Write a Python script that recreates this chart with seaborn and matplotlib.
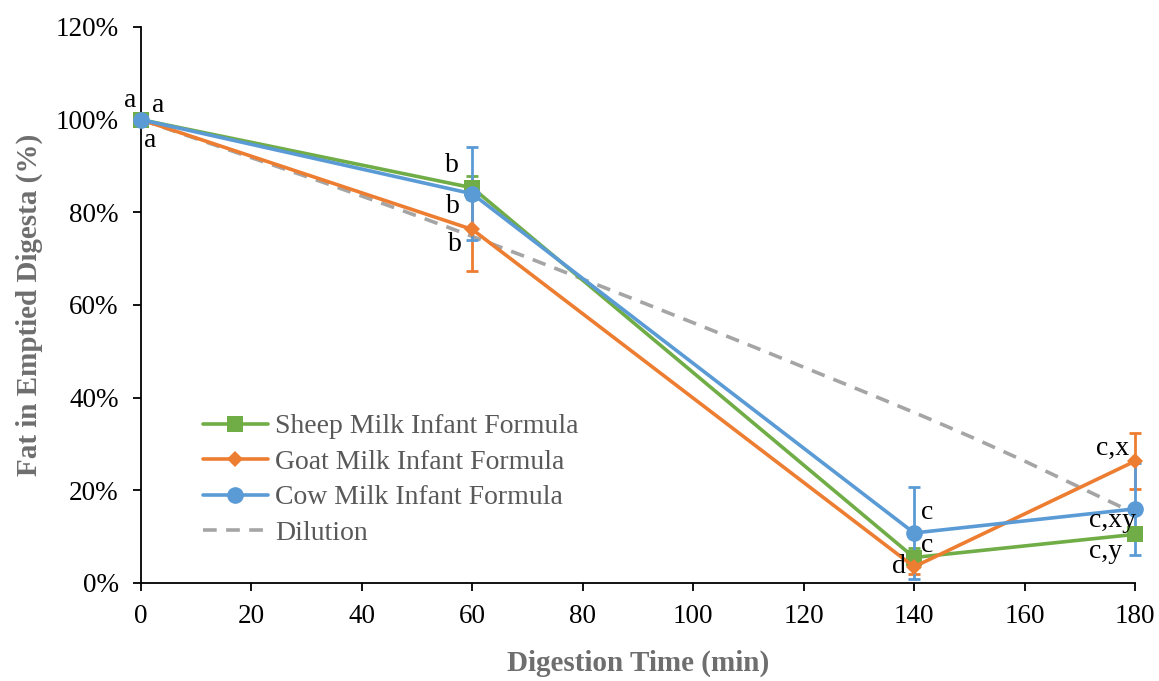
import numpy as np
import pandas as pd
import matplotlib
matplotlib.use("Agg")
import matplotlib.pyplot as plt
import seaborn as sns
from matplotlib.path import Path
from matplotlib.patches import PathPatch

# ---- data ----
time = [0, 60, 140, 180]
sheep = [100, 85.3, 5.5, 10.5]
goat = [100, 76.3, 3.5, 26.3]
cow = [100, 84.0, 10.8, 16.0]
dilution = [100, 74.8, 36.8, 15.0]

sheep_err = [0, 2.5, 2.0, 0]
goat_err = [0, 9.0, 1.5, 6.0]
cow_err = [0, 10.0, 10.0, 10.0]

labels = [
    ("a", -2.0, 104.2), ("a", 3.2, 103.0), ("a", 1.6, 95.4),
    ("b", 56.3, 90.2), ("b", 56.5, 81.2), ("b", 56.9, 73.0),
    ("c", 142.3, 15.3), ("c", 142.3, 8.2), ("d", 137.2, 3.5),
    ("c,x", 176.0, 29.1), ("c,xy", 176.0, 13.4), ("c,y", 174.6, 6.7),
]

series_names = ["Sheep Milk Infant Formula", "Goat Milk Infant Formula",
                "Cow Milk Infant Formula"]
colors = ["#70AD47", "#ED7D31", "#5B9BD5"]
markers = ["s", "D", "o"]
msizes = [11, 8.5, 12]

sns.set_style("white")
plt.rcParams["font.family"] = ["Liberation Serif", "DejaVu Serif"]

fig = plt.figure(figsize=(11.59, 6.81), dpi=100)
ax = fig.add_axes([141/1159, 1-583/681, (1135-141)/1159, (583-27)/681])

# dilution (smoothed line through its points, Excel-style)
xs = np.array(time, float); ys = np.array(dilution, float)
verts = [(xs[0], ys[0])]; codes = [Path.MOVETO]
n = len(xs)
for i in range(n - 1):
    p0 = np.array([xs[max(i-1, 0)], ys[max(i-1, 0)]])
    p1 = np.array([xs[i], ys[i]])
    p2 = np.array([xs[i+1], ys[i+1]])
    p3 = np.array([xs[min(i+2, n-1)], ys[min(i+2, n-1)]])
    c1 = p1 + (p2 - p0) / 6.0
    c2 = p2 - (p3 - p1) / 6.0
    verts += [tuple(c1), tuple(c2), tuple(p2)]
    codes += [Path.CURVE4] * 3
ax.add_patch(PathPatch(Path(verts, codes), fill=False, edgecolor="#A5A5A5",
                       lw=2.6, ls=(0, (3.8, 2.6)), zorder=2, clip_on=False))
ax.plot([], [], color="#A5A5A5", lw=2.6, ls=(0, (3.8, 2.6)), label="Dilution")

vals = [sheep, goat, cow]
errs = [sheep_err, goat_err, cow_err]
for name, v, e, c, m, ms in zip(series_names, vals, errs, colors, markers, msizes):
    df = pd.DataFrame({"t": time, "v": v})
    ax.errorbar(time, v, yerr=e, fmt="none", ecolor=c, elinewidth=2,
                capsize=4.5, capthick=2, zorder=3, clip_on=False)
    sns.lineplot(data=df, x="t", y="v", ax=ax, color=c, lw=2.6, marker=m,
                 markersize=ms, markeredgewidth=0, label=name, zorder=4,
                 clip_on=False)

for txt, x, y in labels:
    ax.text(x, y, txt, ha="center", va="center", fontsize=20, color="black",
            zorder=6)

ax.set_xlim(0, 180)
ax.set_ylim(0, 120)
ax.set_xticks(range(0, 181, 20))
ax.set_yticks(range(0, 121, 20))
ax.set_yticklabels([f"{t}%" for t in range(0, 121, 20)])
ax.tick_params(axis="both", direction="out", length=6, width=1.3,
               labelsize=19.5, colors="black", bottom=True, left=True)
ax.tick_params(axis="y", pad=10)
ax.tick_params(axis="x", pad=9)
for s in ["top", "right"]:
    ax.spines[s].set_visible(False)
for s in ["left", "bottom"]:
    ax.spines[s].set_color("black")
    ax.spines[s].set_linewidth(1.3)

ax.set_xlabel("Digestion Time (min)", fontsize=21, fontweight="bold",
              color="#6E6E6E", labelpad=15)
ax.set_ylabel("Fat in Emptied Digesta (%)", fontsize=21, fontweight="bold",
              color="#6E6E6E", labelpad=9)

h, l = ax.get_legend_handles_labels()
order = [l.index(n) for n in series_names] + [l.index("Dilution")]
leg = ax.legend([h[i] for i in order], [l[i] for i in order],
                loc="lower left", bbox_to_anchor=(0.062, 0.067), frameon=False,
                fontsize=20, handlelength=2.35, handletextpad=0.25,
                labelspacing=0.36, borderaxespad=0, borderpad=0)
for t in leg.get_texts():
    t.set_color("#595959")

fig.savefig("out.png", dpi=100)
